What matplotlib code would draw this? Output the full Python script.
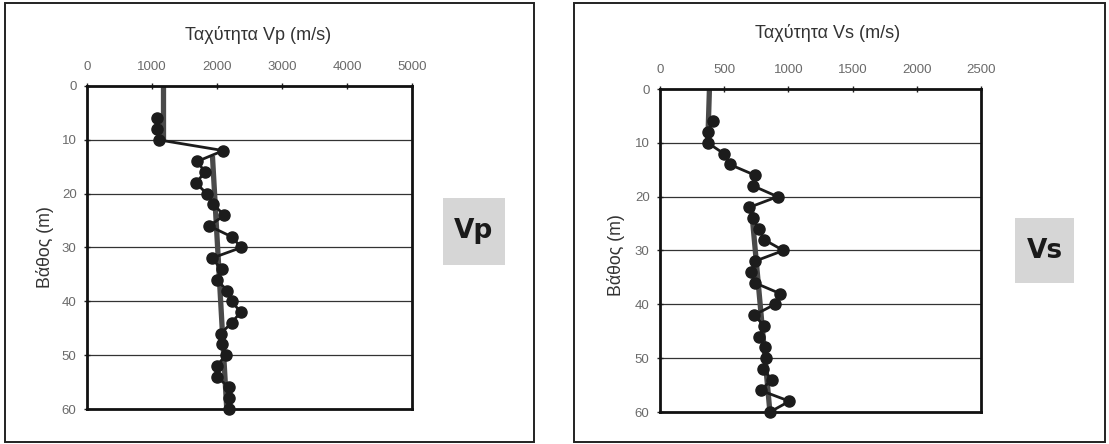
import matplotlib
matplotlib.use("Agg")
import matplotlib.pyplot as plt
from matplotlib.patches import Rectangle

plt.rcParams['font.family'] = ['Liberation Sans', 'DejaVu Sans']

# ---- data ----
depth = [6, 8, 10, 12, 14, 16, 18, 20, 22, 24, 26, 28, 30, 32, 34, 36, 38, 40,
         42, 44, 46, 48, 50, 52, 54, 56, 58, 60]
vp = [1082, 1082, 1100, 2097, 1697, 1815, 1677, 1841, 1943, 2112, 1881, 2225,
      2374, 1918, 2071, 1994, 2159, 2225, 2364, 2225, 2056, 2071, 2138, 1994,
      1994, 2189, 2179, 2179]
vs = [411, 372, 372, 497, 542, 738, 725, 916, 694, 725, 770, 812, 961, 738,
      707, 738, 935, 895, 733, 812, 770, 817, 825, 804, 869, 785, 1008, 856]

vp_model_top_depth = [0, 10]
vp_model_top_vel = [1165, 1165]
vp_model_low_depth = [13, 60]
vp_model_low_vel = [1930, 2150]

vs_model_top_depth = [0, 10]
vs_model_top_vel = [385, 372]
vs_model_low_depth = [21, 60]
vs_model_low_vel = [708, 856]

vp_ticks = [0, 1000, 2000, 3000, 4000, 5000]
vs_ticks = [0, 500, 1000, 1500, 2000, 2500]
depth_ticks = [0, 10, 20, 30, 40, 50, 60]

W, H = 1109, 444
fig = plt.figure(figsize=(W / 100, H / 100), dpi=100)
fig.patch.set_facecolor('white')


def fx(x):
    return x / W


def fy(y):
    return 1 - y / H


# outer panel boxes
for (x0, x1) in [(5, 534), (574, 1105)]:
    fig.patches.append(Rectangle((fx(x0), fy(442)), fx(x1 - x0), (442 - 3) / H,
                                 transform=fig.transFigure, fill=False,
                                 edgecolor='#222222', lw=1.4))


def make_axes(rect, vel, model_a, model_b, xmax, xticks):
    ax = fig.add_axes(rect)
    ax.set_xlim(0, xmax)
    ax.set_ylim(60, 0)
    ax.xaxis.tick_top()
    ax.set_xticks(xticks)
    ax.set_yticks(depth_ticks)
    ax.tick_params(axis='both', direction='inout', length=5, width=1,
                   color='#222222', labelcolor='#6a6a6a', labelsize=9.5)
    ax.tick_params(axis='x', pad=7)
    ax.tick_params(axis='y', pad=5)
    for s in ax.spines.values():
        s.set_linewidth(2.0)
        s.set_color('#111111')
    for d in depth_ticks[1:-1]:
        ax.axhline(d, color='#333333', lw=0.9, zorder=1)
    ax.plot(model_a[0], model_a[1], color='#4a4a4a', lw=3.8, zorder=2,
            solid_capstyle='butt')
    ax.plot(model_b[0], model_b[1], color='#4a4a4a', lw=3.8, zorder=2,
            solid_capstyle='butt')
    ax.plot(vel, depth, color='#1c1c1c', lw=2.0, marker='o', markersize=8,
            markerfacecolor='#1c1c1c', markeredgecolor='#1c1c1c', zorder=3,
            clip_on=False)
    return ax


ax1 = make_axes([fx(87), fy(409), fx(412 - 87), (409 - 86) / H], vp,
                (vp_model_top_vel, vp_model_top_depth),
                (vp_model_low_vel, vp_model_low_depth), 5000, vp_ticks)
ax2 = make_axes([fx(660), fy(412), fx(981 - 660), (412 - 89) / H], vs,
                (vs_model_top_vel, vs_model_top_depth),
                (vs_model_low_vel, vs_model_low_depth), 2500, vs_ticks)

fig.text(fx(258), fy(35), 'Ταχύτητα Vp (m/s)', ha='center', va='center',
         fontsize=13, color='#333333')
fig.text(fx(828), fy(33), 'Ταχύτητα Vs (m/s)', ha='center', va='center',
         fontsize=13, color='#333333')
fig.text(fx(45), fy(247), 'Βάθος (m)', ha='center', va='center', rotation=90,
         fontsize=12.8, color='#333333')
fig.text(fx(616), fy(255), 'Βάθος (m)', ha='center', va='center', rotation=90,
         fontsize=12.8, color='#333333')

# label boxes
for (x0, x1, y0, y1, lab) in [(443, 505, 198, 265, 'Vp'), (1015, 1074, 218, 283, 'Vs')]:
    fig.patches.append(Rectangle((fx(x0), fy(y1)), fx(x1 - x0), (y1 - y0) / H,
                                 transform=fig.transFigure, facecolor='#d6d6d6',
                                 edgecolor='none'))
    fig.text(fx((x0 + x1) / 2), fy((y0 + y1) / 2), lab, ha='center', va='center',
             fontsize=19, fontweight='bold', color='#1a1a1a',
             family=['DejaVu Sans'])

fig.savefig('out.png', dpi=100, facecolor='white')
